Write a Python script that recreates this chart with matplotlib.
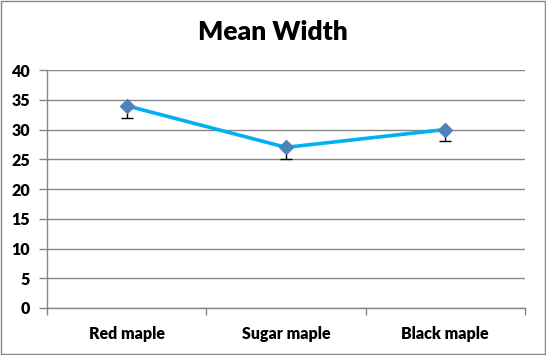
import matplotlib
matplotlib.use('Agg')
import matplotlib.pyplot as plt
from matplotlib.patches import Rectangle

categories = ['Red maple', 'Sugar maple', 'Black maple']
mean_width = [34, 27, 30]
err_low = [2, 2, 2]
y_ticks = [0, 5, 10, 15, 20, 25, 30, 35, 40]

plt.rcParams['font.family'] = ['Lato', 'DejaVu Sans']

fig = plt.figure(figsize=(5.46, 3.55), dpi=100)
ax = fig.add_axes([0.086, 0.1324, 0.8755, 0.6704])

grid_c = '#868686'
x = list(range(len(categories)))

ax.errorbar(x, mean_width, yerr=[err_low, [0, 0, 0]], fmt='none',
            ecolor='black', elinewidth=1, capsize=4, capthick=1, zorder=2)
ax.plot(x, mean_width, color='#00B0F0', linewidth=2.6, zorder=3)
ax.plot(x, mean_width, linestyle='none', marker='D', markersize=7.5,
        color='#4F81BD', markeredgecolor='#4F81BD', zorder=4)

ax.set_xlim(-0.5, 2.5)
ax.set_ylim(0, 40)
ax.set_yticks(y_ticks)
ax.set_yticklabels([str(v) for v in y_ticks], fontweight='heavy', fontsize=11.5)
ax.yaxis.grid(True, color=grid_c, linewidth=1)
ax.set_axisbelow(True)

ax.set_xticks(x)
ax.set_xticklabels(categories, fontweight='heavy', fontsize=11.5)
ax.tick_params(axis='x', length=0, pad=13)
ax.set_xticks([-0.5, 0.5, 1.5, 2.5], minor=True)
ax.tick_params(axis='x', which='minor', length=5, color=grid_c, width=1)
ax.tick_params(axis='y', length=6, color=grid_c, width=1, pad=6)

for side in ['top', 'right']:
    ax.spines[side].set_visible(False)
for side in ['left', 'bottom']:
    ax.spines[side].set_color(grid_c)
    ax.spines[side].set_linewidth(1)

fig.text(0.5, 0.91, 'Mean Width', ha='center', va='center',
         fontsize=19, fontweight='heavy')

fig.patches.append(Rectangle((0.002, 0.003), 0.996, 0.994, transform=fig.transFigure,
                             fill=False, edgecolor=grid_c, linewidth=1))

plt.savefig('out.png', dpi=100)
plt.close()
